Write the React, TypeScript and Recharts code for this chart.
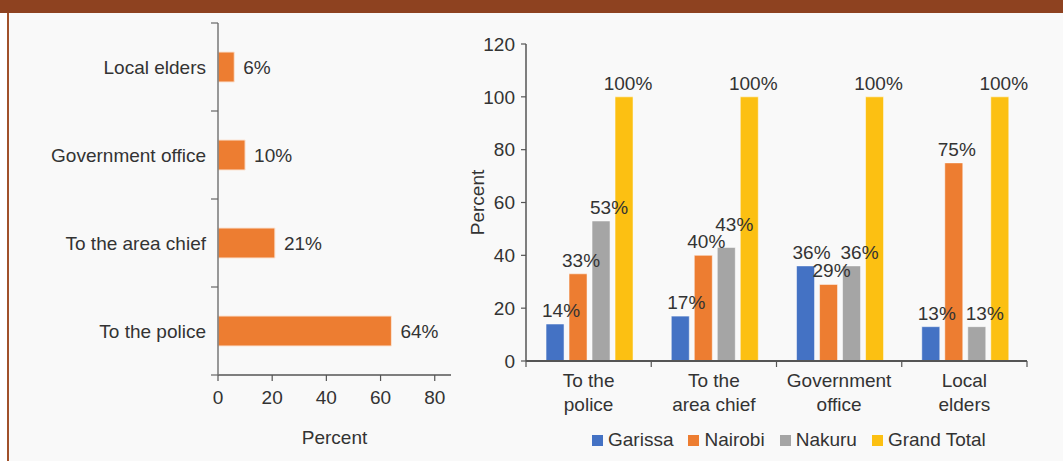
import React from 'react';
import { BarChart, Bar, XAxis, YAxis, LabelList } from 'recharts';

// left panel: where people reported
const reportCategories = ['Local elders', 'Government office', 'To the area chief', 'To the police'];
const reportShares = [6, 10, 21, 64];
const reportTicks = [0, 20, 40, 60, 80];

// right panel: by county
const groups = ['To the police', 'To the area chief', 'Government office', 'Local elders'];
const groupLines = [['To the', 'police'], ['To the', 'area chief'], ['Government', 'office'], ['Local', 'elders']];
const garissa = [14, 17, 36, 13];
const nairobi = [33, 40, 29, 75];
const nakuru = [53, 43, 36, 13];
const grandTotal = [100, 100, 100, 100];
const percentTicks = [0, 20, 40, 60, 80, 100, 120];

const series = [
  { key: 'Garissa', values: garissa, color: '#4472c4', dx: 6 },
  { key: 'Nairobi', values: nairobi, color: '#ed7d31', dx: 3 },
  { key: 'Nakuru', values: nakuru, color: '#a5a5a5', dx: 8 },
  { key: 'Grand Total', values: grandTotal, color: '#fcc012', dx: 4 },
];

const FONT = '"Liberation Sans", Arial, sans-serif';
const TEXT = '#333';
const FS = 19;

const leftData = reportCategories.map((name, i) => ({ name, value: reportShares[i] }));
const rightData = groups.map((name, i) => {
  const row: Record<string, number | string> = { name };
  series.forEach((s) => { row[s.key] = s.values[i]; });
  return row;
});

// left chart geometry
const L_W = 470;
const L_H = 461;
const L_TOP = 23;
const L_AXIS_X = 218;
const L_XAXIS_H = 86;
const L_PLOT_H = L_H - L_TOP - L_XAXIS_H;

// right chart geometry
const R_W = 603;
const R_H = 461;
const R_TOP = 44;
const R_YAXIS_W = 66;
const R_RIGHT = 36;
const R_XAXIS_H = 100;
const R_PLOT_W = R_W - R_YAXIS_W - R_RIGHT;
const R_AXIS_Y = R_H - R_XAXIS_H;

function LeftCategoryTick(props: any) {
  const { y, payload, index } = props;
  const band = L_PLOT_H / reportCategories.length;
  const last = index === reportCategories.length - 1;
  return (
    <g>
      <text x={L_AXIS_X - 12} y={y} textAnchor="end" dominantBaseline="central" fontSize={FS} fill={TEXT} fontFamily={FONT}>
        {payload.value}
      </text>
      <line x1={L_AXIS_X - 7} x2={L_AXIS_X} y1={y - band / 2} y2={y - band / 2} stroke="#666" strokeWidth={1.2} />
      {last && <line x1={L_AXIS_X - 7} x2={L_AXIS_X} y1={y + band / 2} y2={y + band / 2} stroke="#666" strokeWidth={1.2} />}
    </g>
  );
}

function GroupTick(props: any) {
  const { x, index } = props;
  const band = R_PLOT_W / groups.length;
  const last = index === groups.length - 1;
  const lines = groupLines[index] || [];
  return (
    <g>
      <text x={x} y={R_AXIS_Y + 26} textAnchor="middle" fontSize={FS} fill={TEXT} fontFamily={FONT}>
        {lines.map((l, i) => (
          <tspan key={i} x={x} dy={i === 0 ? 0 : 24}>{l}</tspan>
        ))}
      </text>
      <line x1={x - band / 2} x2={x - band / 2} y1={R_AXIS_Y} y2={R_AXIS_Y + 6} stroke="#555" strokeWidth={1.2} />
      {last && <line x1={x + band / 2} x2={x + band / 2} y1={R_AXIS_Y} y2={R_AXIS_Y + 6} stroke="#555" strokeWidth={1.2} />}
    </g>
  );
}

// value label above a bar; nudged up when it would collide with the neighbour's label
function makeBarLabel(seriesIdx: number) {
  return function BarLabel(props: any) {
    const { x, y, width, value, index } = props;
    const s = series[seriesIdx];
    const prev = series[seriesIdx - 1];
    const lift = prev && Math.abs(prev.values[index] - s.values[index]) < 5 ? 9 : 0;
    return (
      <text x={x + width / 2 + s.dx} y={y - 7 - lift} textAnchor="middle" fontSize={FS} fill={TEXT} fontFamily={FONT}>
        {`${value}%`}
      </text>
    );
  };
}

export default function App() {
  return (
    <div style={{ position: 'absolute', left: 0, top: 0, width: 1063, height: 461, background: '#ffffff', overflow: 'hidden', fontFamily: FONT }}>
      <div style={{ position: 'absolute', left: 0, top: 0, width: 1063, height: 13, background: '#8e4220' }} />
      <div style={{ position: 'absolute', left: 9, top: 13, width: 1054, height: 448, background: '#f9f9f9' }} />
      <div style={{ position: 'absolute', left: 7, top: 13, width: 2, height: 448, background: '#a0512a' }} />

      <div style={{ position: 'absolute', left: 0, top: 0 }}>
        <BarChart
          width={L_W}
          height={L_H}
          layout="vertical"
          data={leftData}
          margin={{ top: L_TOP, right: L_W - 451, bottom: 0, left: 0 }}
        >
          <XAxis
            type="number"
            domain={[0, 86]}
            ticks={reportTicks}
            height={L_XAXIS_H}
            tick={{ fill: TEXT, fontSize: FS, fontFamily: FONT }}
            tickSize={6}
            tickMargin={10}
            axisLine={{ stroke: '#555', strokeWidth: 1.5 }}
            tickLine={{ stroke: '#555', strokeWidth: 1.2 }}
            label={{ value: 'Percent', position: 'insideBottom', offset: 17, fill: TEXT, fontSize: FS, fontFamily: FONT }}
          />
          <YAxis
            type="category"
            dataKey="name"
            width={L_AXIS_X}
            tick={<LeftCategoryTick />}
            tickLine={false}
            axisLine={{ stroke: '#777', strokeWidth: 1.5 }}
            interval={0}
          />
          <Bar dataKey="value" fill="#ed7d31" stroke="#fbe3d2" strokeWidth={1} barSize={30} isAnimationActive={false}>
            <LabelList
              dataKey="value"
              position="right"
              offset={9}
              formatter={(v: any) => `${v}%`}
              fill={TEXT}
              fontSize={FS}
              fontFamily={FONT}
            />
          </Bar>
        </BarChart>
      </div>

      <div style={{ position: 'absolute', left: 460, top: 0 }}>
        <BarChart
          width={R_W}
          height={R_H}
          data={rightData}
          margin={{ top: R_TOP, right: R_RIGHT, bottom: 0, left: 0 }}
          barCategoryGap="16%"
          barGap={5}
        >
          <XAxis
            dataKey="name"
            height={R_XAXIS_H}
            tick={<GroupTick />}
            tickLine={false}
            interval={0}
            axisLine={{ stroke: '#555', strokeWidth: 2 }}
          />
          <YAxis
            domain={[0, 120]}
            ticks={percentTicks}
            width={R_YAXIS_W}
            tick={{ fill: TEXT, fontSize: FS, fontFamily: FONT }}
            tickSize={5}
            tickMargin={6}
            axisLine={{ stroke: '#555', strokeWidth: 1.5 }}
            tickLine={{ stroke: '#555', strokeWidth: 1.2 }}
            label={{ value: 'Percent', angle: -90, position: 'insideLeft', offset: 17, fill: TEXT, fontSize: FS, fontFamily: FONT, style: { textAnchor: 'middle' } }}
          />
          {series.map((s, si) => (
            <Bar key={s.key} dataKey={s.key} fill={s.color} stroke="#ffffff" strokeOpacity={0.5} strokeWidth={1} isAnimationActive={false}>
              <LabelList dataKey={s.key} content={makeBarLabel(si)} />
            </Bar>
          ))}
        </BarChart>
      </div>

      <div style={{ position: 'absolute', left: 592, top: 429, display: 'flex', alignItems: 'center', fontSize: FS, color: TEXT, whiteSpace: 'nowrap' }}>
        {series.map((s) => (
          <div key={s.key} style={{ display: 'flex', alignItems: 'center', marginRight: 15 }}>
            <span style={{ display: 'inline-block', width: 11, height: 11, background: s.color, marginRight: 5 }} />
            <span>{s.key}</span>
          </div>
        ))}
      </div>
    </div>
  );
}
